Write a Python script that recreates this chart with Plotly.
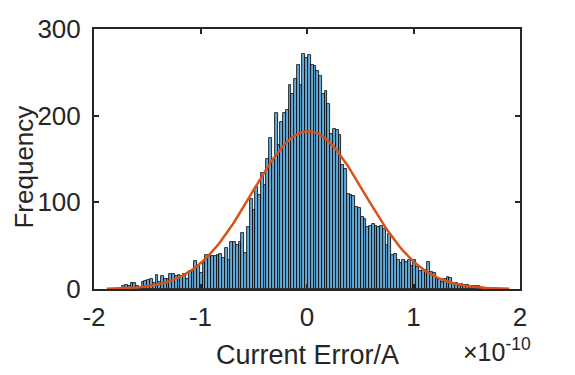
import math
import plotly.graph_objects as go

# histogram of current error, x in units of 1e-10 A
bin_start = -1.735
bin_width = 0.02604
counts = [
    3, 5, 3, 7, 7, 3, 2, 8, 9, 10, 11, 7, 16, 8, 15, 11, 12, 17, 17, 15,
    16, 15, 17, 11, 21, 21, 32, 26, 19, 30, 39, 38, 38, 38, 39, 40, 36, 47, 34,
    54, 54, 51, 54, 65, 42, 72, 104, 91, 118, 109, 134, 120, 150, 174, 150,
    203, 166, 193, 203, 206, 235, 225, 242, 258, 235, 271, 266, 270, 259, 257,
    251, 246, 225, 228, 213, 179, 185, 183, 178, 143, 139, 110, 108, 107, 95,
    93, 83, 81, 71, 73, 75, 73, 71,
    73, 69, 51, 64, 39, 40, 33, 30, 34, 31, 34, 26, 34, 25, 21, 22, 22, 31,
    20, 19, 12, 12, 8, 12, 14, 13, 7, 7, 4, 6, 5, 5, 3, 3, 4, 4, 1,
]

# normal fit (histfit style)
fit_mu = 0.01
fit_sigma = 0.53
fit_peak = 182
fit_lo, fit_hi = -1.88, 1.9

x_ticks = [-2, -1, 0, 1, 2]
y_ticks = [0, 100, 200, 300]

centers = [bin_start + (i + 0.5) * bin_width for i in range(len(counts))]

npts = 200
fx = [fit_lo + (fit_hi - fit_lo) * i / (npts - 1) for i in range(npts)]
fy = [fit_peak * math.exp(-0.5 * ((v - fit_mu) / fit_sigma) ** 2) for v in fx]

axis_col = "#262626"
font = "Liberation Sans, Arial, sans-serif"

fig = go.Figure()
fig.add_trace(go.Bar(
    x=centers, y=counts, width=bin_width,
    marker=dict(color="rgb(102,170,215)", line=dict(color="black", width=0.8)),
))
fig.add_trace(go.Scatter(x=fx, y=fy, mode="lines",
                         line=dict(color="#D95319", width=2.5)))

# page body has an 8px margin, so margins are offset by 8
fig.update_layout(
    width=575, height=375,
    margin=dict(l=86, r=63, t=21, b=94),
    paper_bgcolor="white", plot_bgcolor="white",
    showlegend=False, bargap=0,
    font=dict(family=font, size=26, color=axis_col),
)
fig.update_xaxes(
    range=[-2, 2], tickvals=x_ticks, ticktext=[str(v) for v in x_ticks],
    showgrid=False, zeroline=False, automargin=False,
    showline=True, linecolor=axis_col, linewidth=2, mirror="ticks",
    ticks="inside", ticklen=5, tickwidth=2, tickcolor=axis_col,
    ticklabelstandoff=4,
)
fig.update_yaxes(
    range=[0, 300], tickvals=y_ticks,
    showgrid=False, zeroline=False, automargin=False,
    showline=True, linecolor=axis_col, linewidth=2, mirror="ticks",
    ticks="inside", ticklen=5, tickwidth=2, tickcolor=axis_col,
    ticklabelstandoff=6,
)
fig.add_annotation(
    text="Frequency", xref="paper", yref="paper", x=-0.165, y=0.47,
    textangle=-90, xanchor="center", yanchor="middle",
    showarrow=False, font=dict(size=26, color=axis_col),
)
fig.add_annotation(
    text="Current Error/A", xref="paper", yref="paper", x=0.5, y=-0.255,
    xanchor="center", yanchor="middle",
    showarrow=False, font=dict(size=27, color=axis_col),
)
fig.add_annotation(
    text="×10<sup>-10</sup>", xref="paper", yref="paper",
    x=1.03, y=-0.235, xanchor="right", yanchor="middle",
    showarrow=False, font=dict(size=25, color=axis_col),
)

fig.write_html("out.html")
